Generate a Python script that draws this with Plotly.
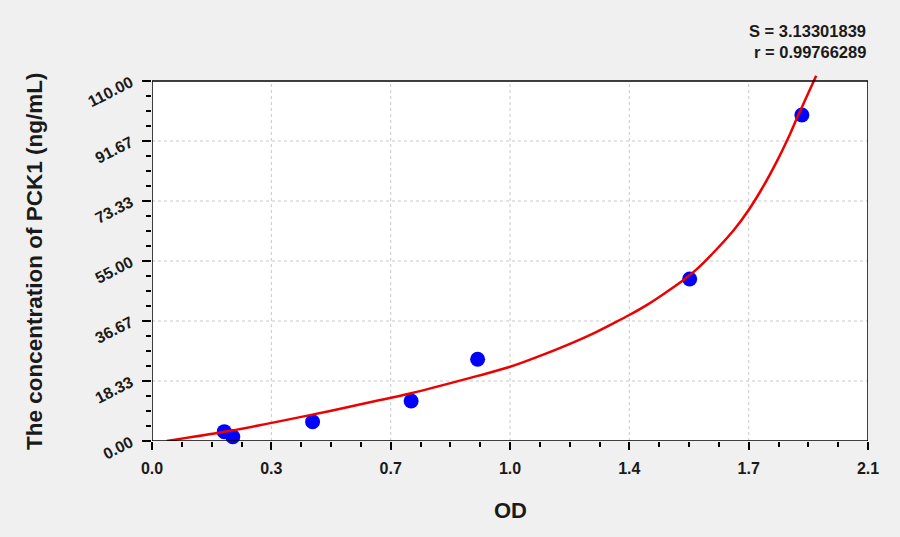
import plotly.graph_objects as go

# Standard points
od = [0.212, 0.237, 0.471, 0.760, 0.955, 1.577, 1.906]
conc = [2.85, 1.3, 5.9, 12.2, 25.0, 49.5, 99.6]

# Fitted curve, sampled by eye along the red line
fit_od = [0.043, 0.229, 0.463, 0.669, 0.760, 0.955, 1.048, 1.138, 1.217, 1.295,
          1.354, 1.400, 1.452, 1.510, 1.559, 1.598, 1.647, 1.706, 1.750, 1.794,
          1.833, 1.867, 1.892, 1.921, 1.948]
fit_conc = [0.0, 3.1, 7.9, 12.5, 14.6, 19.9, 22.6, 26.0, 29.3, 32.9,
            36.0, 38.5, 41.6, 45.6, 49.2, 52.5, 57.6, 64.4, 70.6, 78.0,
            85.5, 92.8, 98.8, 105.4, 111.6]

x_ticks = [0, 0.35, 0.7, 1.05, 1.4, 1.75, 2.1]
x_labels = ["0.0", "0.3", "0.7", "1.0", "1.4", "1.7", "2.1"]
y_ticks = [0, 18.33, 36.67, 55, 73.33, 91.67, 110]
y_labels = ["0.00", "18.33", "36.67", "55.00", "73.33", "91.67", "110.00"]

stats = ["S = 3.13301839", "r = 0.99766289"]

X_MAX = 2.1
Y_MAX = 110
# plot area is 370px tall but the frame stops at 110 (360px), so the curve can run past it
Y_TOP = Y_MAX * 370 / 360

FONT = "Liberation Sans, Arial, sans-serif"
INK = "#1a1a1a"

fig = go.Figure()
fig.add_trace(go.Scatter(x=od, y=conc, mode="markers",
                         marker=dict(size=15, color="#0000ff"),
                         cliponaxis=False, showlegend=False))
fig.add_trace(go.Scatter(x=fit_od, y=fit_conc, mode="lines", line_shape="spline",
                         line=dict(color="#ee0000", width=2.5, smoothing=1),
                         showlegend=False))

shapes = [dict(type="rect", xref="x", yref="y", x0=0, x1=X_MAX, y0=0, y1=Y_MAX,
               fillcolor="white", line_width=0, layer="below")]
for xv in x_ticks[1:-1]:
    shapes.append(dict(type="line", xref="x", yref="y", x0=xv, x1=xv, y0=0, y1=Y_MAX,
                       line=dict(color="#c8c8c8", width=1, dash="dot"), layer="below"))
for yv in y_ticks[1:-1]:
    shapes.append(dict(type="line", xref="x", yref="y", x0=0, x1=X_MAX, y0=yv, y1=yv,
                       line=dict(color="#c8c8c8", width=1, dash="dot"), layer="below"))
shapes.append(dict(type="rect", xref="x", yref="y", x0=0, x1=X_MAX, y0=0, y1=Y_MAX,
                   line=dict(color="black", width=1.5), layer="above"))

bold = dict(color=INK, family=FONT, weight="bold")
annotations = [
    dict(text="OD", xref="paper", yref="paper", x=0.5, y=0, yshift=-69,
         xanchor="center", yanchor="middle",
         showarrow=False, font=dict(size=22, **bold)),
    dict(text="The concentration of PCK1 (ng/mL)", xref="paper", yref="paper",
         x=0, y=Y_MAX / Y_TOP / 2, xshift=-118, textangle=-90,
         xanchor="center", yanchor="middle",
         showarrow=False, font=dict(size=22.5, **bold)),
]
for i, s in enumerate(stats):
    annotations.append(dict(text=s, xref="paper", yref="paper", x=1, y=1,
                            xanchor="right", yanchor="middle", yshift=40 - 21 * i,
                            showarrow=False, font=dict(size=16.5, **bold)))

fig.update_layout(
    width=900, height=537,
    margin=dict(l=152, r=32, t=71, b=96),
    paper_bgcolor="#f0f0f0", plot_bgcolor="#f0f0f0",
    font=dict(size=15, **bold),
    shapes=shapes, annotations=annotations,
)
fig.update_xaxes(range=[0, X_MAX], tickmode="array", tickvals=x_ticks, ticktext=x_labels,
                 ticks="outside", ticklen=8, tickwidth=1.5, tickcolor="black",
                 ticklabelstandoff=5, showgrid=False, zeroline=False, showline=False,
                 tickfont=dict(size=16, **bold),
                 minor=dict(tickmode="linear", tick0=0, dtick=0.0875, ticks="outside",
                            ticklen=5, tickwidth=1.5, tickcolor="black", showgrid=False))
fig.update_yaxes(range=[0, Y_TOP], tickmode="array", tickvals=y_ticks, ticktext=y_labels,
                 ticks="outside", ticklen=9, tickwidth=1.5, tickcolor="black",
                 tickangle=-27, ticklabelstandoff=8, showgrid=False, zeroline=False,
                 showline=False, tickfont=dict(size=16, **bold),
                 minor=dict(tickmode="linear", tick0=0, dtick=Y_MAX / 24, ticks="outside",
                            ticklen=5, tickwidth=1.5, tickcolor="black", showgrid=False))

fig.write_html("out.html", config={"displayModeBar": False},
               post_script="document.body.style.margin = '0';")
